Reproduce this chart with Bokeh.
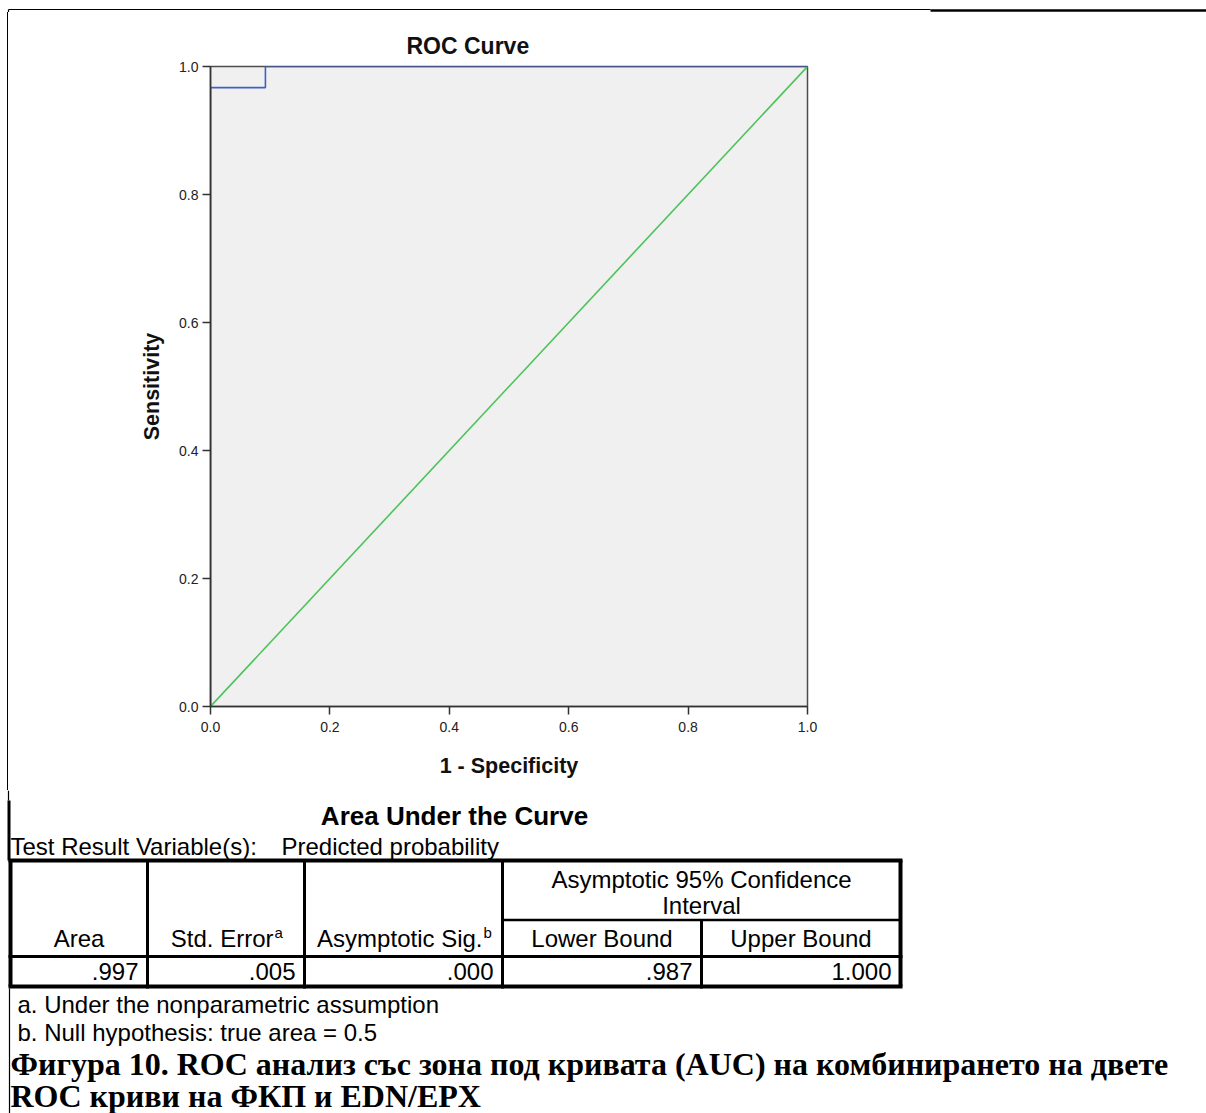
from bokeh.plotting import figure
from bokeh.models import Range1d, FixedTicker, PrintfTickFormatter, Title, Div
from bokeh.layouts import column, row
from bokeh.core.properties import value
from bokeh.embed import file_html
from bokeh.resources import INLINE

# ---------------- data ----------------
roc_fpr = [0.0, 0.0, 0.092, 0.092, 1.0]
roc_tpr = [0.0, 0.967, 0.967, 1.0, 1.0]
ref_x = [0.0, 1.0]
ref_y = [0.0, 1.0]
tick_values = [0.0, 0.2, 0.4, 0.6, 0.8, 1.0]

table_title = "Area Under the Curve"
test_var_label = "Test Result Variable(s):"
test_var_value = "Predicted probability"
col_headers = ["Area", "Std. Error", "Asymptotic Sig.", "Lower Bound", "Upper Bound"]
col_superscripts = ["", "a", "b", "", ""]
group_header = ["Asymptotic 95% Confidence", "Interval"]
row_values = [".997", ".005", ".000", ".987", "1.000"]
footnotes = ["a. Under the nonparametric assumption",
             "b. Null hypothesis: true area = 0.5"]
caption = ["Фигура 10. ROC анализ със зона под кривата (AUC) на комбинирането на двете",
           "ROC криви на ФКП и EDN/EPX"]

SANS = "Liberation Sans"
SERIF = "Liberation Serif"


def page_fig(w, h, x0, y0):
    p = figure(width=w, height=h, x_range=Range1d(x0, x0 + w), y_range=Range1d(y0 + h, y0),
               toolbar_location=None, output_backend="svg", x_axis_type=None, y_axis_type=None,
               min_border_left=0, min_border_right=0, min_border_top=0, min_border_bottom=0)
    p.grid.visible = False
    p.outline_line_color = None
    p.background_fill_color = "white"
    p.border_fill_color = "white"
    return p


# ---------------- top strip (page border line) ----------------
top = page_fig(1206, 12, 0, 0)
top.segment(x0=[8, 930, 8], y0=[9, 10, 9], x1=[930, 1206, 8], y1=[9, 10, 12],
            line_color="black", line_width=[1.2, 2.5, 1.2])

# ---------------- left strip (plain page rule) ----------------
left = Div(text='<div style="margin:0 0 0 7px;padding:0;width:1px;height:778px;background:#000;"></div>',
           width=10, height=778, margin=(0, 0, 0, 0))

# ---------------- ROC figure ----------------
p = figure(width=1196, height=778, x_range=Range1d(0, 1), y_range=Range1d(0, 1),
           toolbar_location=None, output_backend="svg",
           min_border_left=200, min_border_right=399, min_border_top=54, min_border_bottom=84)
p.add_layout(Title(text="ROC Curve", align="left", offset=196, text_font=SANS,
                   text_font_size="23px", text_font_style="bold", text_color="#111111",
                   standoff=16), "above")
p.background_fill_color = "#f0f0f0"
p.border_fill_color = "white"
p.outline_line_color = "#4d4d4d"
p.outline_line_width = 1.5
p.grid.visible = False

p.line(ref_x, ref_y, line_color="#4cc35a", line_width=1.6)
p.line(roc_fpr, roc_tpr, line_color="#3f5fc4", line_width=1.6)

for ax in (p.xaxis[0], p.yaxis[0]):
    ax.ticker = FixedTicker(ticks=tick_values)
    ax.formatter = PrintfTickFormatter(format="%.1f")
    ax.major_tick_out = 8
    ax.major_tick_in = 0
    ax.minor_tick_out = 0
    ax.minor_tick_in = 0
    ax.major_tick_line_color = "#333333"
    ax.major_tick_line_width = 1.5
    ax.axis_line_color = "#333333"
    ax.axis_line_width = 1.5
    ax.major_label_text_font = SANS
    ax.major_label_text_font_size = "14px"
    ax.major_label_text_color = "#222222"
    ax.axis_label_text_font = SANS
    ax.axis_label_text_font_size = "21.5px"
    ax.axis_label_text_font_style = "bold"
    ax.axis_label_text_color = "#111111"

p.xaxis.axis_label = "1 - Specificity"
p.xaxis.major_label_standoff = 7
p.xaxis.axis_label_standoff = 19
p.yaxis.axis_label = "Sensitivity"
p.yaxis.major_label_standoff = 4
p.yaxis.axis_label_standoff = 12

# ---------------- bottom: table, footnotes, caption ----------------
b = page_fig(1206, 323, 0, 790)

# page left border pieces
b.segment(x0=[8, 8.5, 9], y0=[790, 800, 988], x1=[8, 8.5, 9], y1=[800, 860, 1113],
          line_color="black", line_width=[1.2, 3, 1.2])

FS = "24px"
TXT = dict(text_font=value(SANS), text_color="black")
b.text(x=[454], y=[815], text=[table_title], text_align="center", text_baseline="middle",
       text_font_size="26px", text_font_style="bold", **TXT)
b.text(x=[10, 281], y=[846, 846], text=[test_var_label, test_var_value], text_align="left",
       text_baseline="middle", text_font_size=FS, **TXT)

# table geometry (layout)
col_edges = [10, 147, 304, 502, 701, 900]
t_top, t_mid, t_hdr, t_bot = 860, 919.5, 956, 986

# borders
b.segment(x0=[8, 8], y0=[t_top, t_bot], x1=[902, 902], y1=[t_top, t_bot],
          line_color="black", line_width=4)
b.segment(x0=[col_edges[0], col_edges[-1]], y0=[t_top, t_top], x1=[col_edges[0], col_edges[-1]],
          y1=[t_bot, t_bot], line_color="black", line_width=4)
b.segment(x0=[8], y0=[t_hdr], x1=[902], y1=[t_hdr], line_color="black", line_width=3)
b.segment(x0=[col_edges[3]], y0=[t_mid], x1=[col_edges[-1]], y1=[t_mid],
          line_color="black", line_width=2.5)
b.segment(x0=col_edges[1:4], y0=[t_top] * 3, x1=col_edges[1:4], y1=[t_bot + 2] * 3,
          line_color="black", line_width=3)
b.segment(x0=[col_edges[4]], y0=[t_mid], x1=[col_edges[4]], y1=[t_bot + 2],
          line_color="black", line_width=3)

# group header
gx = (col_edges[3] + col_edges[5]) / 2
b.text(x=[gx, gx], y=[879, 905], text=group_header, text_align="center", text_baseline="middle",
       text_font_size=FS, **TXT)

# column headers
centers = [(col_edges[i] + col_edges[i + 1]) / 2 for i in range(5)]
plain_idx = [i for i in range(5) if not col_superscripts[i]]
b.text(x=[centers[i] for i in plain_idx], y=[938] * len(plain_idx),
       text=[col_headers[i] for i in plain_idx], text_align="center", text_baseline="middle",
       text_font_size=FS, **TXT)
sup_idx = [i for i in range(5) if col_superscripts[i]]
sup_x = [274, 483]  # where the superscript letters start (layout)
b.text(x=[sx - 1 for sx in sup_x], y=[938] * len(sup_idx),
       text=[col_headers[i] for i in sup_idx], text_align="right", text_baseline="middle",
       text_font_size=FS, **TXT)
b.text(x=sup_x, y=[932] * len(sup_idx),
       text=[col_superscripts[i] for i in sup_idx], text_align="left", text_baseline="middle",
       text_font_size="15px", **TXT)

# values (right aligned)
b.text(x=[e - 9 for e in col_edges[1:]], y=[971] * 5, text=row_values, text_align="right",
       text_baseline="middle", text_font_size=FS, **TXT)

# footnotes
b.text(x=[17, 17], y=[1004, 1032], text=footnotes, text_align="left", text_baseline="middle",
       text_font_size=FS, **TXT)

# caption
b.text(x=[10, 10], y=[1063, 1095], text=caption, text_align="left", text_baseline="middle",
       text_font=value(SERIF), text_font_style="bold", text_font_size="32px", text_color="black")

layout = column(top, row(left, p), b)
open("out.html", "w").write(file_html(layout, INLINE))
